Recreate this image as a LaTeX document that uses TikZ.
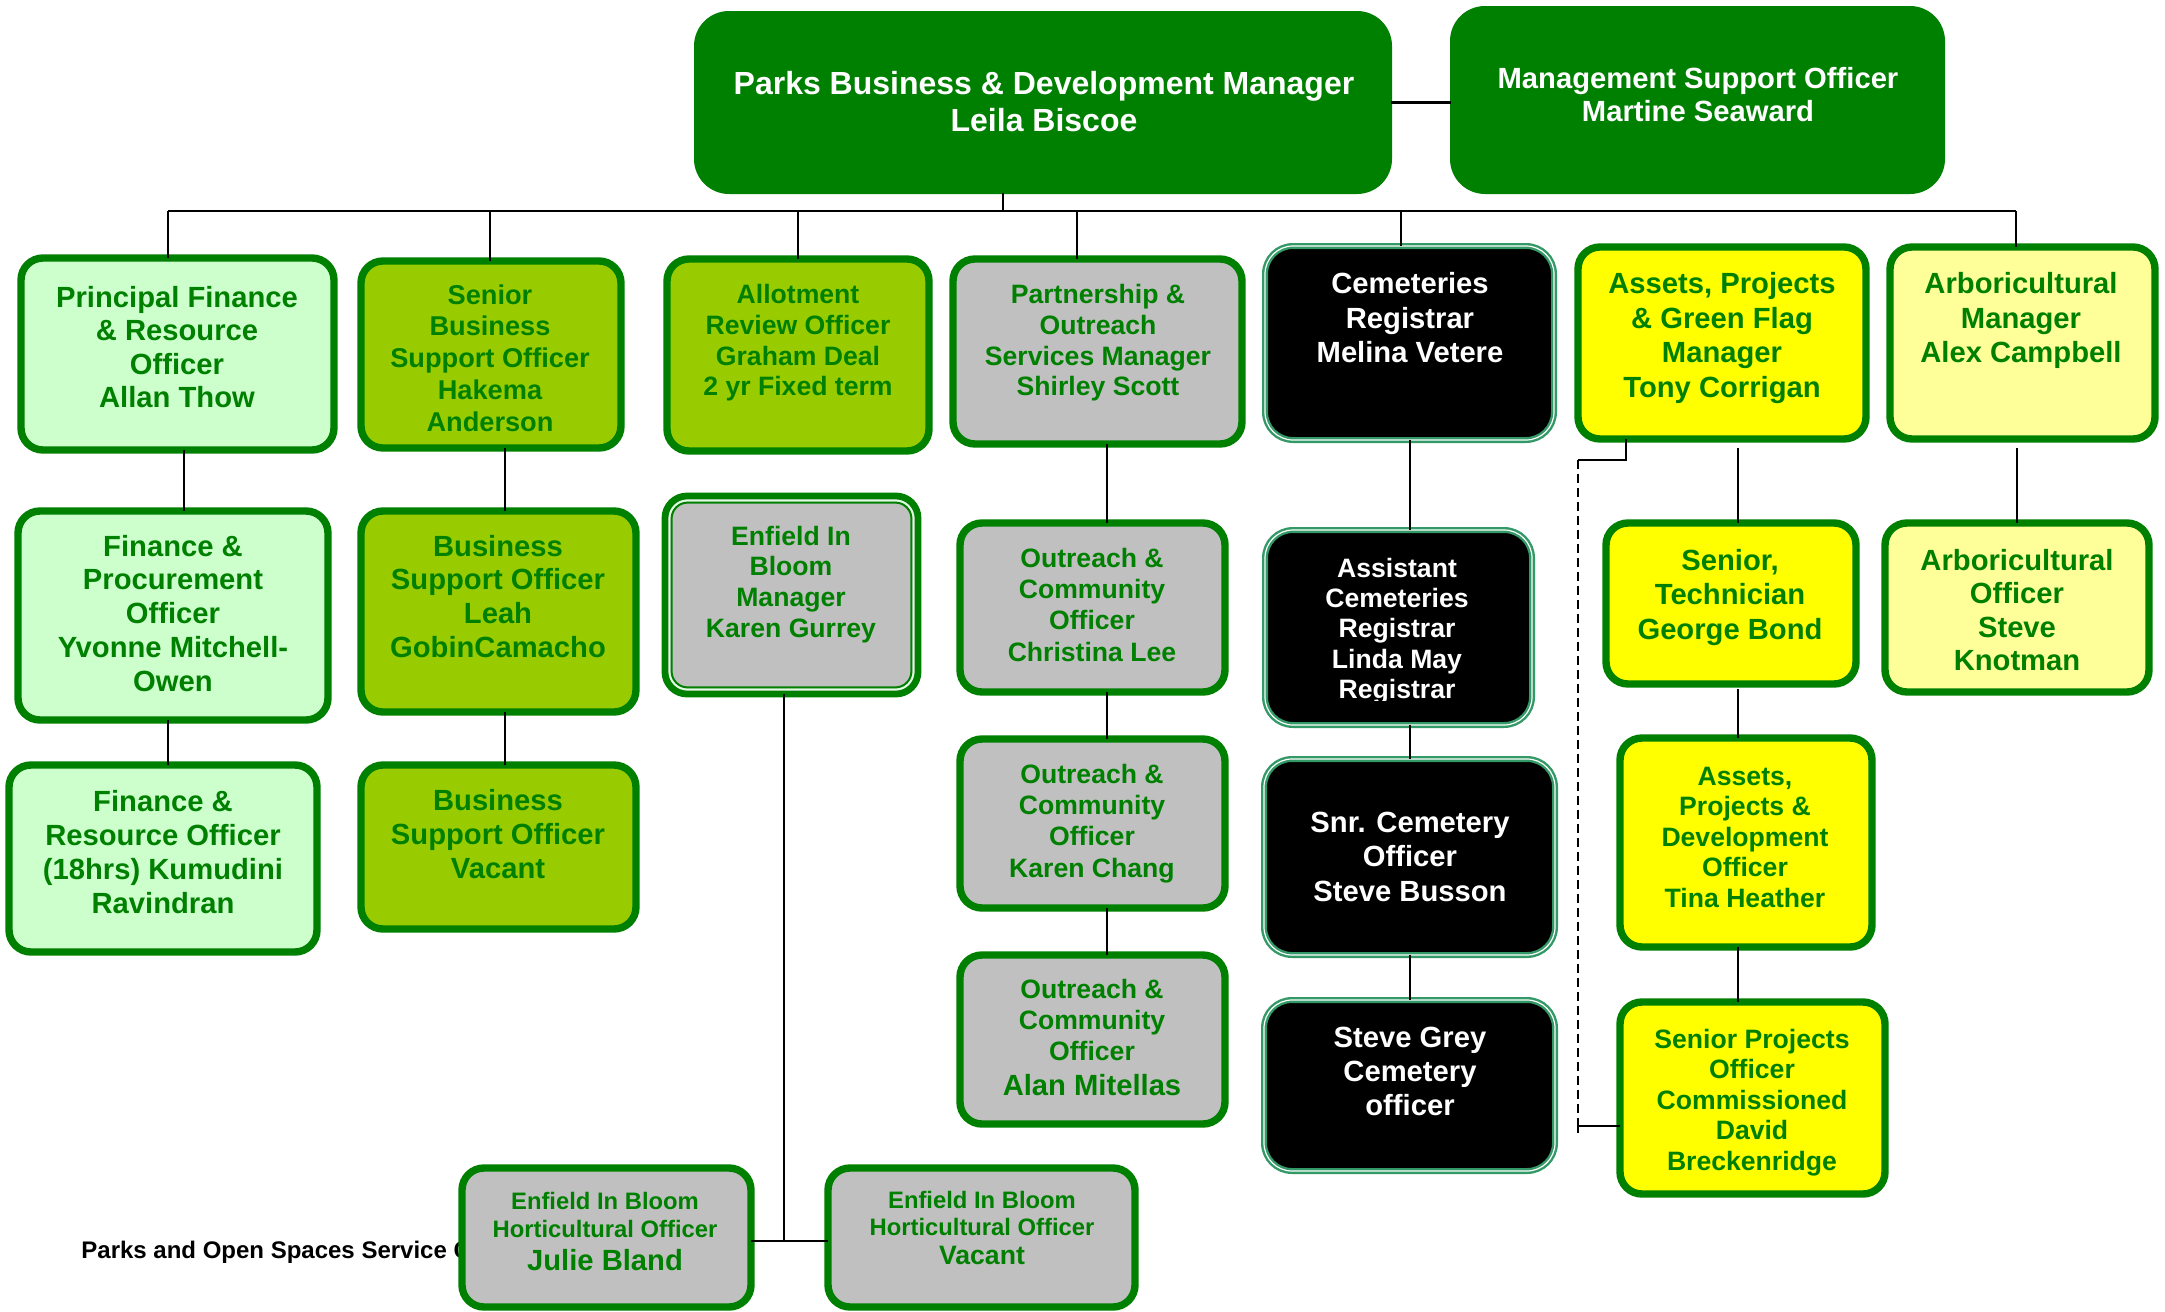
\documentclass[tikz,border=0pt]{standalone}
\usepackage{fontspec}
\setmainfont{Liberation Sans}
\usetikzlibrary{fit}
\definecolor{dkgreen}{HTML}{008000}
\definecolor{palegreen}{HTML}{CCFFCC}
\definecolor{limegreen}{HTML}{99CC00}
\definecolor{greybox}{HTML}{C0C0C0}
\definecolor{yel}{HTML}{FFFF00}
\definecolor{paleyel}{HTML}{FFFF99}
\definecolor{seagrn}{HTML}{339966}
\begin{document}
\begin{tikzpicture}[x=0.5pt,y=-0.5pt,
  headbox/.style={rounded corners=17pt, fill=dkgreen, draw=dkgreen, line width=1pt, inner sep=0pt, outer sep=0pt},
  orgbox/.style={rounded corners=11pt, draw=dkgreen, line width=3.7pt, inner sep=0pt, outer sep=0pt},
  blackbox/.style={rounded corners=14pt, fill=black, draw=seagrn, double=white, double distance=0.6pt, line width=1.2pt, inner sep=0pt, outer sep=0pt},
  fs/.style 2 args={font=\bfseries\fontsize{#1}{#2}\selectfont},
  gtxt/.style={text=dkgreen, align=center, inner sep=0pt, anchor=base},
  wtxt/.style={text=white, align=center, inner sep=0pt, anchor=base},
  conn/.style={line width=0.8pt, black},
  dashconn/.style={line width=0.8pt, black, dash pattern=on 4.5pt off 2.5pt},
]
\fill[white] (0,0) rectangle (2165,1312);
\useasboundingbox (0,0) rectangle (2165,1312);

% footer caption, partly covered by the first horticultural box
\node[anchor=base west, inner sep=0pt, fs={12}{14}] (foot) at (81,1258) {Parks and Open Spaces Service C};

% text nodes below are placed by the baseline of their last line

% ---------- head of service ----------
\node[headbox, fit={(695,12) (1391,193)}] (top) {};
\node[wtxt, fs={16}{18.6}] (topt) at (1044,131.2) {Parks Business \& Development Manager\\Leila Biscoe};
\node[headbox, fit={(1451,7) (1944,193)}] (mso) {};
\node[wtxt, fs={14.6}{16.6}] (msot) at (1698,121.2) {Management Support Officer\\Martine Seaward};

% ---------- row 1 ----------
\node[orgbox, fill=palegreen, fit={(21,258) (334,450)}] (A1) {};
\node[gtxt, fs={14.6}{16.8}] (A1t) at (177,407.8) {Principal Finance\\\& Resource\\Officer\\Allan Thow};
\node[orgbox, fill=limegreen, fit={(361,261) (621,448)}] (B1) {};
\node[gtxt, fs={13.6}{15.9}] (B1t) at (490,431.2) {Senior\\Business\\Support Officer\\Hakema\\Anderson};
\node[orgbox, fill=limegreen, fit={(667,259) (929,451)}] (C1) {};
\node[gtxt, fs={13.3}{15.4}] (C1t) at (798,395.9) {Allotment\\Review Officer\\Graham Deal\\2 yr Fixed term};
\node[orgbox, fill=greybox, fit={(953,259) (1242,444)}] (D1) {};
\node[gtxt, fs={13.3}{15.4}] (D1t) at (1098,395.9) {Partnership \&\\Outreach\\Services Manager\\Shirley Scott};
\node[blackbox, fit={(1265,246) (1554,440)}] (E1) {};
\node[wtxt, fs={14.6}{17.3}] (E1t) at (1410,362.7) {Cemeteries\\Registrar\\Melina Vetere};
\node[orgbox, fill=yel, fit={(1578,247) (1866,439)}] (F1) {};
\node[gtxt, fs={14.6}{17.3}] (F1t) at (1722,397.3) {Assets, Projects\\\& Green Flag\\Manager\\Tony Corrigan};
\node[orgbox, fill=paleyel, fit={(1890,247) (2155,439)}] (G1) {};
\node[gtxt, fs={14.6}{17.3}] (G1t) at (2021,362.7) {Arboricultural\\Manager\\Alex Campbell};

% ---------- row 2 ----------
\node[orgbox, fill=palegreen, fit={(18,511) (328,720)}] (A2) {};
\node[gtxt, fs={14.6}{16.9}] (A2t) at (173,691.2) {Finance \&\\Procurement\\Officer\\Yvonne Mitchell-\\Owen};
\node[orgbox, fill=limegreen, fit={(361,511) (636,712)}] (B2) {};
\node[gtxt, fs={14.6}{16.9}] (B2t) at (498,657.4) {Business\\Support Officer\\Leah\\GobinCamacho};
\node[orgbox, fill=greybox, line width=3.4pt, fit={(665,496) (918,694)}] (C2) {};
\draw[line width=1pt, color=palegreen!60!white, rounded corners=9pt]
  ([shift={(2.3pt,-2.3pt)}]C2.north west) rectangle ([shift={(-2.3pt,2.3pt)}]C2.south east);
\draw[line width=1pt, color=dkgreen, rounded corners=8pt]
  ([shift={(3.3pt,-3.3pt)}]C2.north west) rectangle ([shift={(-3.3pt,3.3pt)}]C2.south east);
\node[gtxt, fs={13.3}{15.4}] (C2t) at (791,637.4) {Enfield In\\Bloom\\Manager\\Karen Gurrey};
\node[orgbox, fill=greybox, fit={(960,523) (1225,692)}] (D2) {};
\node[gtxt, fs={13.3}{15.7}] (D2t) at (1092,661.2) {Outreach \&\\Community\\Officer\\Christina Lee};
\node[blackbox, fit={(1265,530) (1532,725)}] (E2) {};
\begin{scope}
  \clip (1265,530) rectangle (1532,700);
  \node[wtxt, fs={13.3}{15.2}] (E2t) at (1397,698.6) {Assistant\\Cemeteries\\Registrar\\Linda May\\Registrar};
\end{scope}
\node[orgbox, fill=yel, fit={(1606,523) (1856,684)}] (F2) {};
\node[gtxt, fs={14.6}{17.3}] (F2t) at (1730,639.2) {Senior,\\Technician\\George Bond};
\node[orgbox, fill=paleyel, fit={(1885,523) (2149,692)}] (G2) {};
\node[gtxt, fs={14.6}{16.8}] (G2t) at (2017,670.8) {Arboricultural\\Officer\\Steve\\Knotman};

% ---------- row 3 ----------
\node[orgbox, fill=palegreen, fit={(9,765) (317,952)}] (A3) {};
\node[gtxt, fs={14.6}{17}] (A3t) at (163,913) {Finance \&\\Resource Officer\\(18hrs) Kumudini\\Ravindran};
\node[orgbox, fill=limegreen, fit={(361,765) (636,929)}] (B3) {};
\node[gtxt, fs={14.6}{17}] (B3t) at (498,878) {Business\\Support Officer\\Vacant};
\node[orgbox, fill=greybox, fit={(960,739) (1225,908)}] (D3) {};
\node[gtxt, fs={13.3}{15.7}] (D3t) at (1092,877.2) {Outreach \&\\Community\\Officer\\Karen Chang};
\node[blackbox, fit={(1264,759) (1555,955)}] (E3) {};
\node[wtxt, fs={14.6}{17.3}] (E3t) at (1410,901.2) {Snr. Cemetery\\Officer\\Steve Busson};
\node[orgbox, fill=yel, fit={(1620,738) (1872,947)}] (F3) {};
\node[gtxt, fs={13.3}{15.2}] (F3t) at (1745,907.1) {Assets,\\Projects \&\\Development\\Officer\\Tina Heather};

% ---------- row 4 ----------
\node[orgbox, fill=greybox, fit={(960,955) (1225,1124)}] (D4) {};
\node[gtxt, fs={13.3}{15.7}] (D4t) at (1092,1095.6) {Outreach \&\\Community\\Officer\\[1.7pt]{\fontsize{14.6}{17}\selectfont Alan Mitellas}};
\node[blackbox, fit={(1264,1000) (1555,1171)}] (E4) {};
\node[wtxt, fs={14.6}{17}] (E4t) at (1410,1115) {Steve Grey\\Cemetery\\officer};
\node[orgbox, fill=yel, fit={(1620,1002) (1885,1194)}] (F4) {};
\node[gtxt, fs={13.3}{15.3}] (F4t) at (1752,1170.4) {Senior Projects\\Officer\\Commissioned\\David\\Breckenridge};

% ---------- row 5 ----------
\node[orgbox, fill=greybox, fit={(462,1168) (751,1307)}] (H1) {};
\node[gtxt, fs={11.9}{13.8}] (H1t) at (605,1270.3) {Enfield In Bloom\\Horticultural Officer\\[2.8pt]{\fontsize{14.6}{17}\selectfont Julie Bland}};
\node[orgbox, fill=greybox, fit={(828,1168) (1135,1307)}] (H2) {};
\node[gtxt, fs={11.9}{13.8}] (H2t) at (982,1264.6) {Enfield In Bloom\\Horticultural Officer\\[0.7pt]{\fontsize{13.3}{15.4}\selectfont Vacant}};

% ---------- connectors ----------
\draw[line width=1.3pt] (top.east) -- (top.east -| mso.west);
\coordinate (stem) at (1003,211);
\coordinate (busL) at (168,211);
\coordinate (busR) at (2016,211);
\draw[conn] (stem |- top.south) -- (stem);
\draw[conn] (busL) -- (busR);
\coordinate (dA) at (168,211);
\coordinate (dB) at (490,211);
\coordinate (dC) at (798,211);
\coordinate (dD) at (1077,211);
\coordinate (dE) at (1401,211);
\coordinate (dG) at (2016,211);
\draw[conn] (dA) -- (dA |- A1.north);
\draw[conn] (dB) -- (dB |- B1.north);
\draw[conn] (dC) -- (dC |- C1.north);
\draw[conn] (dD) -- (dD |- D1.north);
\draw[conn] (dE) -- (dE |- E1.north);
\draw[conn] (dG) -- (dG |- G1.north);

\coordinate (xA1) at (184,0);
\coordinate (xA2) at (168,0);
\coordinate (xB) at (505,0);
\coordinate (xD) at (1107,0);
\coordinate (xE) at (1410,0);
\coordinate (xF) at (1738,0);
\coordinate (xG) at (2017,0);
\draw[conn] (xA1 |- A1.south) -- (xA1 |- A2.north);
\draw[conn] (xA2 |- A2.south) -- (xA2 |- A3.north);
\draw[conn] (xB |- B1.south) -- (xB |- B2.north);
\draw[conn] (xB |- B2.south) -- (xB |- B3.north);
\draw[conn] (xD |- D1.south) -- (xD |- D2.north);
\draw[conn] (xD |- D2.south) -- (xD |- D3.north);
\draw[conn] (xD |- D3.south) -- (xD |- D4.north);
\draw[conn] (xE |- E1.south) -- (xE |- E2.north);
\draw[conn] (xE |- E2.south) -- (xE |- E3.north);
\draw[conn] (xE |- E3.south) -- (xE |- E4.north);
\draw[conn] (xF |- F1.south) ++(0,9) -- (xF |- F2.north);
\draw[conn] (xF |- F2.south) ++(0,5) -- (xF |- F3.north);
\draw[conn] (xF |- F3.south) -- (xF |- F4.north);
\draw[conn] (xG |- G1.south) ++(0,9) -- (xG |- G2.north);

% dotted-line reporting from the assets manager
\coordinate (fk1) at (1626,460);
\coordinate (fk2) at (1578,460);
\coordinate (fk3) at (1578,1126);
\draw[conn] (fk1 |- F1.south) -- (fk1) -- (fk2);
\draw[dashconn] (fk2) -- (fk3);
\draw[conn] (fk3) -- (fk3 -| F4.west);
\draw[conn] ([yshift=3.5pt]fk3) -- ([yshift=-3.5pt]fk3);

% Enfield In Bloom team
\coordinate (xC) at (784,0);
\coordinate (hy) at (784,1241);
\draw[conn] (xC |- C2.south) -- (hy);
\draw[conn] (hy -| H1.east) -- (hy -| H2.west);
\end{tikzpicture}
\end{document}
